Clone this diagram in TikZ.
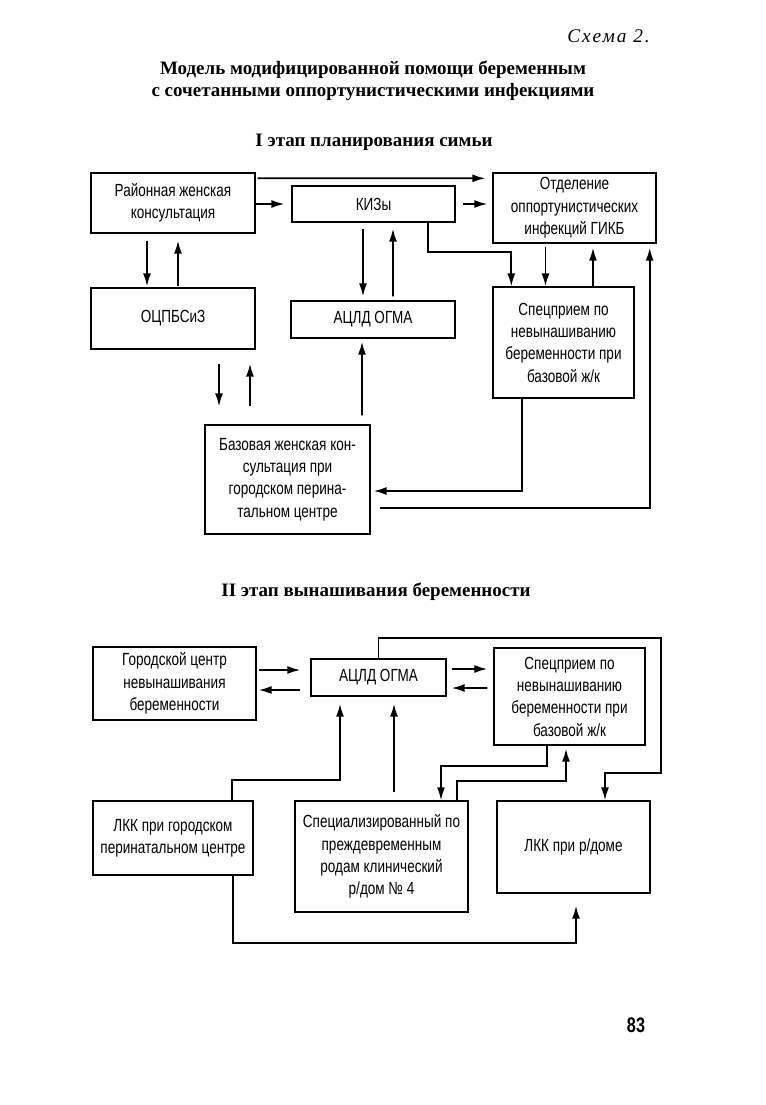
\documentclass[tikz,border=0pt]{standalone}
\usepackage{fontspec}
\setmainfont{Liberation Serif}
\newfontfamily\boxfont{Liberation Sans}[FakeStretch=0.77]
\usetikzlibrary{calc}
\usetikzlibrary{arrows.meta,positioning}

\tikzset{
  block/.style={rectangle,draw=black,line width=0.8pt,align=center,inner sep=2pt,font=\boxfont\fontsize{10}{12.7}\selectfont},
  link/.style={line width=1.0pt,arrows={-Latex[length=2.6mm,width=1.6mm]}},
  heading/.style={align=center,font=\bfseries\fontsize{10.8}{12.6}\selectfont}
}

\begin{document}
\begin{tikzpicture}[x=0.02cm,y=-0.02cm]

\useasboundingbox (0,0) rectangle (765,1105);

%captions
\node[anchor=east,font=\itshape\fontsize{11}{14}\selectfont\addfontfeature{LetterSpace=10}] at (656,36) (scheme) {Схема 2.};
\node[heading] at (373,81) (title) {Модель модифицированной помощи беременным\\с сочетанными оппортунистическими инфекциями};
\node[heading] at (374,142) (stageI) {I этап планирования симьи};
\node[heading] at (376,592) (stageII) {II этап вынашивания беременности};
\node[font=\boxfont\bfseries\fontsize{12}{14}\selectfont] at (636,1025) (page) {83};

%%%%%%% stage I

%draw boxes
\node[block,minimum width=3.28cm,minimum height=1.2cm] at (173,203) (RAION) {Районная женская\\консультация};
\node[block,minimum width=3.26cm,minimum height=0.72cm] at (373.5,204) (KIZ) {КИЗы};
\node[block,minimum width=3.26cm,minimum height=1.4cm] at (574.5,208) (GIKB) {Отделение\\оппортунистических\\инфекций ГИКБ};
\node[block,minimum width=3.28cm,minimum height=1.22cm] at (173,318.5) (OCPB) {ОЦПБСиЗ};
\node[block,minimum width=3.28cm,minimum height=0.74cm] at (373,319.5) (ACLD1) {АЦЛД ОГМА};
\node[block,minimum width=2.82cm,minimum height=2.22cm] at (563.5,342.5) (SPEC1) {Спецприем по\\невынашиванию\\беременности при\\базовой ж/к};
\node[block,minimum width=3.3cm,minimum height=2.18cm] at (287.5,479.5) (BAZ) {Базовая женская кон-\\сультация при\\городском перина-\\тальном центре};

%arrows between boxes
\draw[link] ($(RAION.north east)+(2,6)$) -- ($(GIKB.north west)+(-7,6)$);
\draw[link] ($(KIZ.west)+(-35,0)$) -- ($(KIZ.west)+(-7,0)$);
\draw[link] ($(KIZ.east)+(7,0)$) -- ($(GIKB.west|-KIZ.east)+(-5,0)$);

\draw[link] ($(RAION.south)+(-26,7)$) -- ($(OCPB.north)+(-26,-1)$);
\draw[link] ($(OCPB.north)+(5,-1)$) -- ($(RAION.south)+(5,7)$);

\draw[link] ($(KIZ.south)+(-10.5,6)$) -- ($(ACLD1.north)+(-10,-4)$);
\draw[link] ($(ACLD1.north)+(20,-4)$) -- ($(KIZ.south)+(19.5,6)$);
\draw[link] ($(KIZ.south east)+(-28,0)$) -- ++(0,29) -| ($(SPEC1.north west)+(19,0)$);

\draw[link] ($(GIKB.south)+(-29,3)$) -- ($(SPEC1.north)+(-18,0)$);
\draw[link] ($(SPEC1.north)+(29.5,0)$) -- ($(GIKB.south)+(18.5,4)$);

\draw[link] ($(OCPB.south)+(46,14)$) -- ($(BAZ.north)+(-68.5,-18)$);
\draw[link] ($(BAZ.north)+(-37.5,-18)$) -- ($(OCPB.south)+(77,14)$);
\draw[link] ($(BAZ.north)+(74.5,-9)$) -- ($(ACLD1.south)+(-11,3)$);

\draw[link] ($(SPEC1.south)+(-41.5,0)$) |- ($(BAZ.east)+(3,11.5)$);
\draw[link] ($(BAZ.east)+(9,28.5)$) -| ($(GIKB.south east)+(-7,4)$);

%%%%%%% stage II

%draw boxes
\node[block,minimum width=3.26cm,minimum height=1.46cm] at (174.5,683.5) (GOROD) {Городской центр\\невынашивания\\беременности};
\node[block,minimum width=2.7cm,minimum height=0.74cm] at (378.5,677.5) (ACLD2) {АЦЛД ОГМА};
\node[block,minimum width=3.02cm,minimum height=1.94cm] at (569.5,696.5) (SPEC2) {Спецприем по\\невынашиванию\\беременности при\\базовой ж/к};
\node[block,minimum width=3.2cm,minimum height=1.48cm] at (173,838) (LKKG) {ЛКК при городском\\перинатальном центре};
\node[block,minimum width=3.46cm,minimum height=2.22cm] at (381.5,856.5) (SPECR) {Специализированный по\\преждевременным\\родам клинический\\р/дом № 4};
\node[block,minimum width=3.06cm,minimum height=1.84cm] at (573.5,847) (LKKR) {ЛКК при р/доме};

%arrows between boxes
\draw[link] ($(GOROD.east)+(2,-13.5)$) -- ($(ACLD2.west)+(-10,-7.5)$);
\draw[link] ($(ACLD2.west)+(-10,12.5)$) -- ($(GOROD.east)+(2,6.5)$);
\draw[link] ($(ACLD2.east)+(5,-8.5)$) -- ($(SPEC2.west)+(-6,-27.5)$);
\draw[link] ($(SPEC2.west)+(-6,-8.5)$) -- ($(ACLD2.east)+(5,10.5)$);

\draw[link] ($(LKKG.north)+(59,0)$) -- ++(0,-20) -| ($(ACLD2.south)+(-38.5,7)$);
\draw[link] ($(SPECR.north)+(12.5,-8)$) -- ($(ACLD2.south)+(15.5,7)$);

\draw[link] ($(SPEC2.south)+(-22.5,0)$) -- ++(0,20) -| ($(SPECR.north)+(59.5,0)$);
\draw[link] ($(SPECR.north)+(75.5,0)$) -- ++(0,-19) -| ($(SPEC2.south)+(-3.5,3)$);

\draw[link] (ACLD2.north) -- ++(0,-20) -| ($(LKKR.north east)+(10,-27)$) -| ($(LKKR.north)+(31.5,0)$);
\draw[link] ($(LKKG.south)+(60,0)$) -- ++(0,67) -| ($(LKKR.south)+(2.5,12)$);

\end{tikzpicture}
\end{document}
